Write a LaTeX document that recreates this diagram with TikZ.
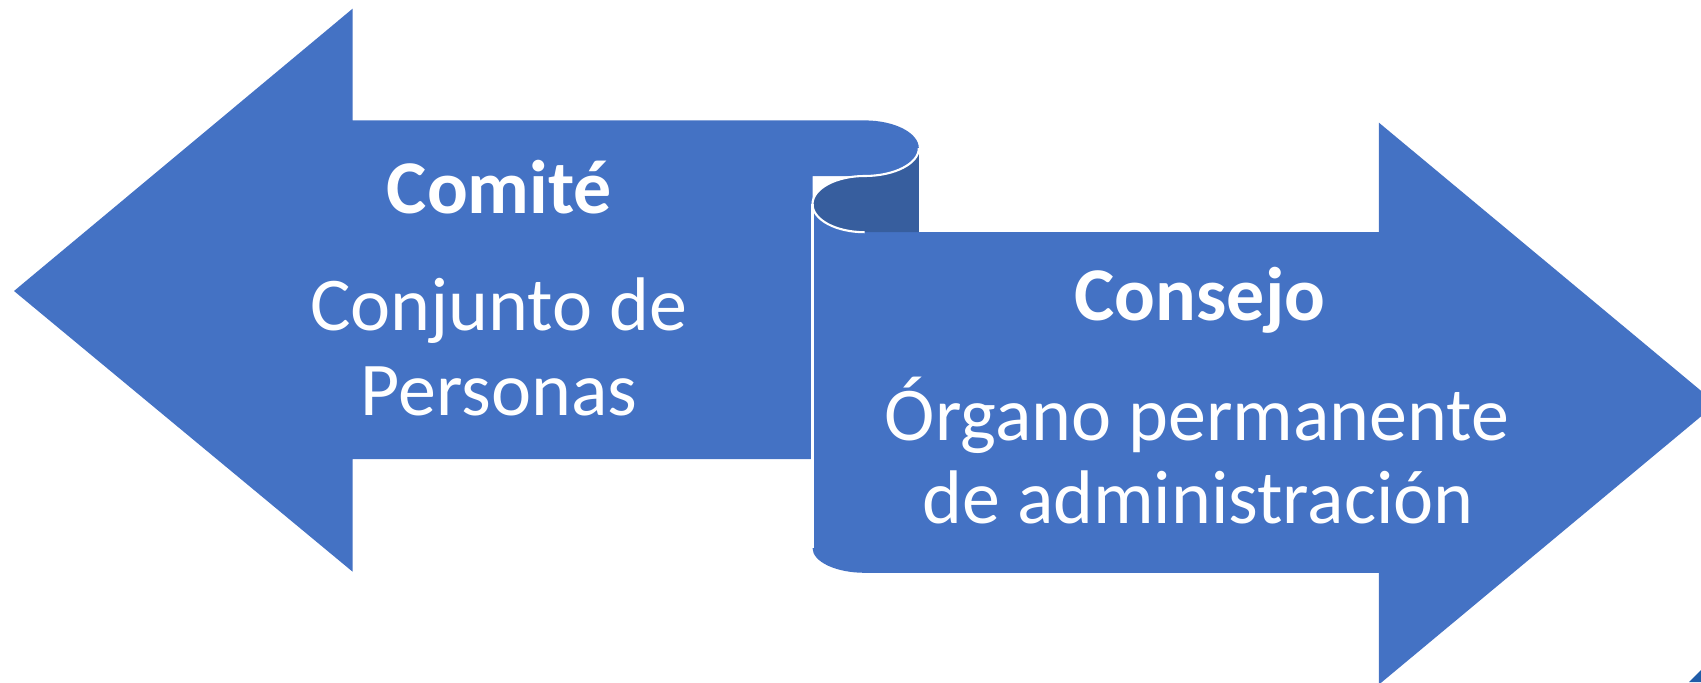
\documentclass[tikz,border=0pt]{standalone}
\usepackage{fontspec}
\setmainfont{Carlito}
\definecolor{shapeblue}{HTML}{4472C4}
\definecolor{curldark}{HTML}{375E9E}
\definecolor{cornerblue}{HTML}{1F5CA8}
\begin{document}
\begin{tikzpicture}[x=0.01cm,y=-0.01cm,
  lbl/.style={text=white,anchor=base,inner sep=0pt,font=\fontsize{21.6}{24}\selectfont},
  lblb/.style={lbl,font=\fontsize{21.6}{24}\selectfont\bfseries}]
\useasboundingbox (0,0) rectangle (1701,682);
\clip (0,0) rectangle (1701,682);
% left arrow
\fill[shapeblue] (14,291) -- (352.6,8.7) -- (352.6,120.4) -- (864.6,120.4)
  .. controls (894.5,120.4) and (918.8,132.8) .. (918.8,148.2)
  .. controls (918.8,163.6) and (894.5,176) .. (864.6,176)
  -- (812.5,176) -- (812.5,459) -- (352.6,459) -- (352.6,571.7) -- cycle;
% right arrow
\fill[shapeblue] (812.5,204.1) -- (812.5,548)
  .. controls (812.5,561.7) and (835.8,572.8) .. (864.6,572.8)
  -- (1378.8,572.8) -- (1378.8,684.6) -- (1716.4,403.6) -- (1378.8,122.6)
  -- (1378.8,232.2) -- (864.6,232.2)
  .. controls (835.8,232.2) and (812.5,219.6) .. (812.5,204.1) -- cycle;
% dark curl
\fill[curldark] (918.8,148.2)
  .. controls (918.8,163.6) and (894.5,176) .. (864.6,176)
  .. controls (835.8,176) and (812.5,188.6) .. (812.5,204.1)
  .. controls (812.5,219.6) and (835.8,232.2) .. (864.6,232.2)
  -- (918.8,232.2) -- cycle;
% white outlines
\draw[white,line width=0.6pt] (918.8,148.2)
  .. controls (918.8,163.6) and (894.5,176) .. (864.6,176)
  .. controls (835.8,176) and (812.5,188.6) .. (812.5,204.1)
  .. controls (812.5,219.6) and (835.8,232.2) .. (864.6,232.2);
\draw[white,line width=0.6pt] (812.5,204.1) -- (812.5,548);
% corner fragment
\fill[cornerblue] (1689,682) -- (1701,670) -- (1701,682) -- cycle;
% texts
\node[lblb] (comite) at (499.5,213) {Comité};
\node[lbl] (conj1) at (499,330) {Conjunto de};
\node[lbl] (conj2) at (499,415) {Personas};
\node[lblb] (consejo) at (1200,320) {Consejo};
\node[lbl] (org1) at (1197,440) {Órgano permanente};
\node[lbl] (org2) at (1198,523) {de administración};
\end{tikzpicture}
\end{document}
